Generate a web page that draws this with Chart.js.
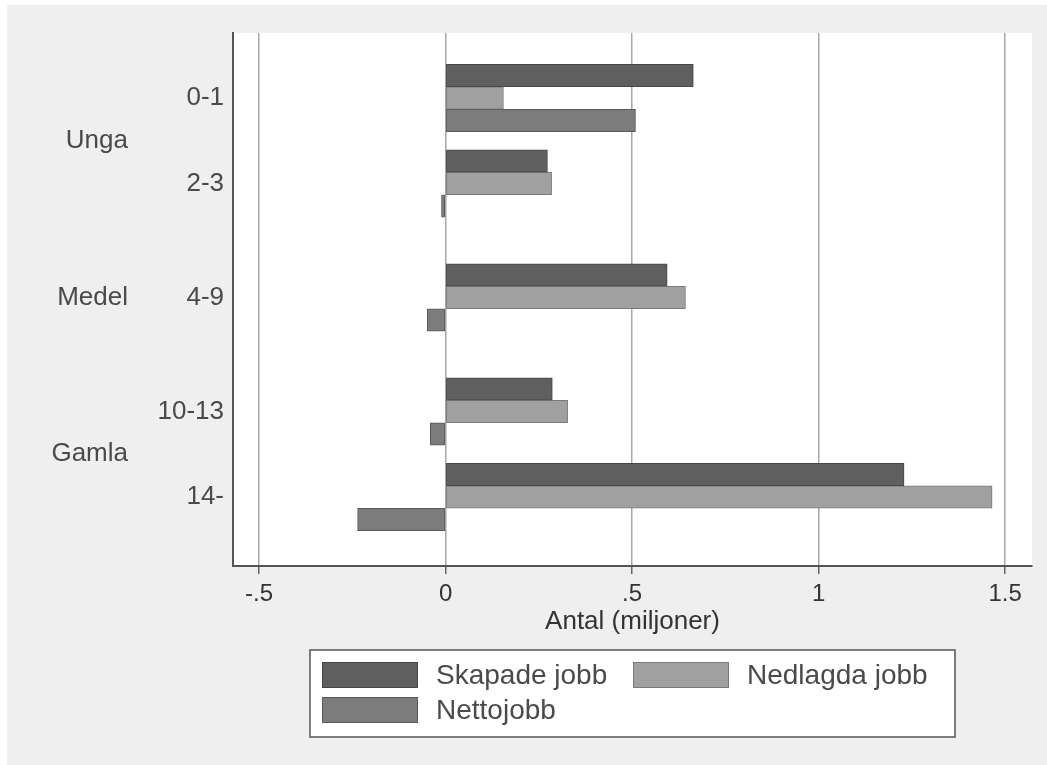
<!DOCTYPE html>
<html>
<head>
<meta charset="utf-8">
<script src="https://cdn.jsdelivr.net/npm/chart.js@4.4.0/dist/chart.umd.min.js"></script>
<style>
  html, body { margin: 0; padding: 0; background: #fff; }
  canvas { display: block; }
</style>
</head>
<body>
<canvas id="chart" width="1047" height="765"></canvas>
<script>
const groups = ['Unga', 'Medel', 'Gamla'];
const ages = ['0-1', '2-3', '4-9', '10-13', '14-'];
const ageGroup = [0, 0, 1, 2, 2]; // which group each age belongs to
const skapade = [0.664, 0.273, 0.594, 0.286, 1.229];
const nedlagda = [0.155, 0.284, 0.643, 0.327, 1.465];
const netto = [0.509, -0.011, -0.049, -0.041, -0.236];
const xTicks = [-0.5, 0, 0.5, 1, 1.5];
const xTickLabels = ['-.5', '0', '.5', '1', '1.5'];

// 3 slots per age on the y axis, plus one extra slot between groups
const slots = ages.map((a, i) => i * 3 + ageGroup[i]);
const toPoints = vals => vals.map((v, i) => ({ x: v, y: slots[i] }));

const FONT = "'Liberation Sans', Arial, sans-serif";

const background = {
  id: 'background',
  beforeDraw(chart) {
    const { ctx, chartArea: a } = chart;
    ctx.save();
    ctx.fillStyle = '#ffffff';
    ctx.fillRect(0, 0, chart.width, chart.height);
    ctx.fillStyle = '#efefef';
    ctx.fillRect(7, 5, chart.width - 7, chart.height - 5);
    ctx.fillStyle = '#ffffff';
    ctx.fillRect(a.left, a.top, a.right - a.left, a.bottom - a.top);
    ctx.restore();
  }
};

const extras = {
  id: 'extras',
  afterDraw(chart) {
    const { ctx } = chart;
    const yScale = chart.scales.y;
    ctx.save();
    // group labels
    ctx.font = '26px ' + FONT;
    ctx.fillStyle = '#4a4a4a';
    ctx.textAlign = 'right';
    ctx.textBaseline = 'middle';
    groups.forEach((g, gi) => {
      const ps = slots.filter((s, i) => ageGroup[i] === gi).map(s => yScale.getPixelForValue(s));
      const y = ps.reduce((a, b) => a + b, 0) / ps.length;
      ctx.fillText(g, 128, y);
    });

    // legend
    ctx.fillStyle = '#fff';
    ctx.fillRect(310, 650, 645, 87);
    ctx.strokeStyle = '#555';
    ctx.lineWidth = 1.5;
    ctx.strokeRect(310, 650, 645, 87);
    const spots = [[322, 662], [633, 662], [322, 697]];
    ctx.textAlign = 'left';
    ctx.font = '28px ' + FONT;
    chart.data.datasets.forEach((ds, i) => {
      const [x, y] = spots[i];
      ctx.fillStyle = ds.backgroundColor;
      ctx.fillRect(x, y, 96, 26);
      ctx.strokeStyle = ds.borderColor;
      ctx.lineWidth = 1;
      ctx.strokeRect(x + 0.5, y + 0.5, 95, 25);
      ctx.fillStyle = '#4a4a4a';
      ctx.fillText(ds.label, x + 114, y + 14);
    });
    ctx.restore();
  }
};

new Chart(document.getElementById('chart'), {
  type: 'bar',
  data: {
    datasets: [
      { label: 'Skapade jobb', data: toPoints(skapade), backgroundColor: '#5f5f5f', borderColor: '#474747' },
      { label: 'Nedlagda jobb', data: toPoints(nedlagda), backgroundColor: '#a0a0a0', borderColor: '#7a7a7a' },
      { label: 'Nettojobb', data: toPoints(netto), backgroundColor: '#7c7c7c', borderColor: '#585858' }
    ]
  },
  options: {
    responsive: false,
    animation: false,
    indexAxis: 'y',
    layout: { padding: { top: 33, right: 15, bottom: 128, left: 0 } },
    datasets: {
      bar: { barThickness: 22.5, borderWidth: 1, borderSkipped: false, grouped: true }
    },
    plugins: {
      legend: { display: false },
      tooltip: { enabled: false }
    },
    scales: {
      x: {
        type: 'linear',
        min: -0.570,
        max: 1.572,
        afterFit: s => { s.height = 71; },
        afterBuildTicks: s => { s.ticks = xTicks.map(v => ({ value: v })); },
        ticks: {
          callback: (v, i) => xTickLabels[i],
          font: { family: FONT, size: 24 },
          color: '#333',
          padding: 6,
          maxRotation: 0
        },
        grid: { color: '#a8a8a8', lineWidth: 1.5, tickLength: 8, tickColor: '#666', drawTicks: true },
        border: { display: true, color: '#555', width: 2 },
        title: {
          display: true,
          text: 'Antal (miljoner)',
          font: { family: FONT, size: 26 },
          color: '#333',
          padding: { top: 0, bottom: 0 }
        }
      },
      y: {
        type: 'linear',
        reverse: true,
        offset: false,
        min: -2.28,
        max: 16.42,
        afterFit: s => { s.width = 233; },
        afterBuildTicks: s => { s.ticks = slots.map(v => ({ value: v })); },
        ticks: {
          callback: (v, i) => ages[i],
          font: { family: FONT, size: 26 },
          color: '#4a4a4a',
          padding: 1
        },
        grid: { display: false, offset: false },
        border: { display: true, color: '#555', width: 2 }
      }
    }
  },
  plugins: [background, extras]
});
</script>
</body>
</html>
